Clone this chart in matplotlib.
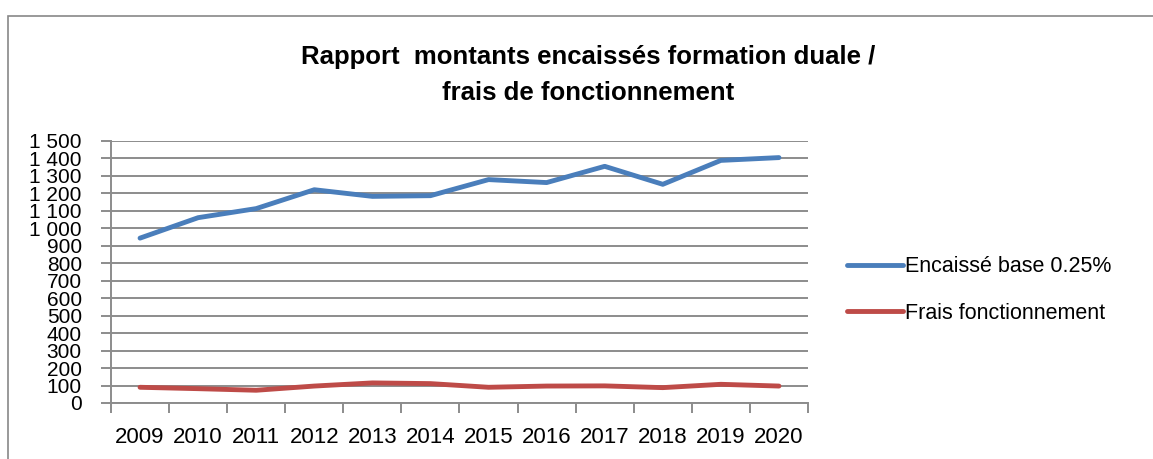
import numpy as np
import matplotlib.pyplot as plt
from matplotlib.patches import Rectangle
from matplotlib.ticker import FixedLocator

years = ['2009', '2010', '2011', '2012', '2013', '2014',
         '2015', '2016', '2017', '2018', '2019', '2020']
encaisse = [944, 1061, 1113, 1221, 1183, 1187, 1279, 1262, 1355, 1252, 1389, 1405]
frais = [90, 82, 73, 97, 115, 111, 90, 97, 98, 88, 107, 97]
y_ticks = list(range(0, 1501, 100))

plt.rcParams['font.family'] = ['Liberation Sans', 'DejaVu Sans']

W, H = 1153, 459
fig = plt.figure(figsize=(W / 100, H / 100), dpi=100)
ax = fig.add_axes([111 / W, 1 - 403 / H, (808 - 111) / W, (403 - 141) / H])

# outer chart frame
fig.patches.append(Rectangle((8 / W, -0.05), 1.1, 1 - 16 / H + 0.05, transform=fig.transFigure,
                             fill=False, edgecolor='#888888', linewidth=1.2))

x = np.arange(len(years))
ax.plot(x, encaisse, color='#4A7EBB', linewidth=3.5, solid_capstyle='round',
        label='Encaissé base 0.25%')
ax.plot(x, frais, color='#BE4B48', linewidth=3.5, solid_capstyle='round',
        label='Frais fonctionnement')

ax.set_xlim(-0.5, len(years) - 0.5)
ax.set_ylim(0, 1500)
ax.set_yticks(y_ticks)
ax.set_yticklabels(['{:,}'.format(v).replace(',', ' ') for v in y_ticks], fontsize=15)
ax.yaxis.grid(True, color='#8c8c8c', linewidth=1.4)
ax.set_axisbelow(True)
ax.tick_params(axis='y', length=7, width=1.4, color='#8c8c8c', pad=14)

ax.set_xticks(x)
ax.set_xticklabels(years, fontsize=16)
ax.xaxis.set_minor_locator(FixedLocator(np.arange(-0.5, len(years), 1)))
ax.tick_params(axis='x', which='major', length=0, pad=17)
ax.tick_params(axis='x', which='minor', length=7, width=1.4, color='#8c8c8c')

for side in ['top', 'right']:
    ax.spines[side].set_visible(False)
for side in ['left', 'bottom']:
    ax.spines[side].set_color('#8c8c8c')
    ax.spines[side].set_linewidth(1.4)

fig.text(588 / W, 1 - 57 / H, 'Rapport  montants encaissés formation duale /',
         ha='center', va='center', fontsize=18.5, fontweight='bold')
fig.text(588 / W, 1 - 93 / H, 'frais de fonctionnement',
         ha='center', va='center', fontsize=18.5, fontweight='bold')

fig.legend(loc='center left', bbox_to_anchor=(847 / W, 1 - 290 / H), frameon=False,
           fontsize=15.5, handlelength=2.6, handletextpad=0.1, labelspacing=1.2,
           borderaxespad=0, borderpad=0)

fig.savefig('out.png', dpi=100)
